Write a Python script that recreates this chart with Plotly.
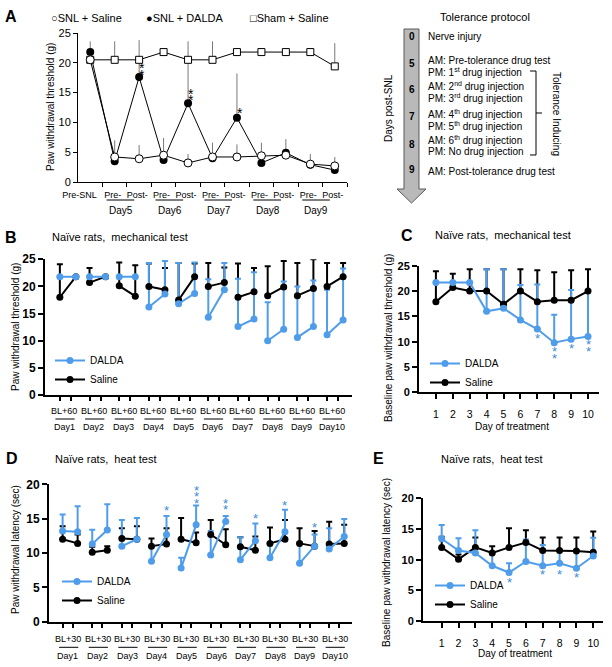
import plotly.graph_objects as go

W, H = 612, 667
BLUE = "#4F9DEA"
STAR_BLUE = "#3D8BD6"
FONT = "Liberation Sans, Arial, sans-serif"


def px(x):
    return x / W


def py(y):
    return 1 - y / H


# ---------------- panel A : SNL rats, tolerance ----------------
a_labels = ["Pre-SNL" + "\u00a0" * 7, "Pre-", "Post-", "Pre-", "Post-", "Pre-", "Post-",
            "Pre-", "Post-", "Pre-", "Post-"]
a_days = ["Day5", "Day6", "Day7", "Day8", "Day9"]
a_snl_saline = [20.5, 4.2, 3.9, 4.5, 3.2, 4.2, 4.2, 4.4, 4.5, 3.0, 2.7]
a_snl_saline_err = [0, 2.8, 2.3, 2.9, 1.5, 2.4, 2.1, 2.2, 2.7, 1.7, 1.5]
a_snl_dalda = [21.8, 3.5, 17.6, 3.7, 13.2, 4.0, 10.8, 3.2, 4.9, 2.9, 2.0]
a_snl_dalda_err = [1.8, 0, 6.2, 0, 10.4, 0, 7.4, 0, 0, 0, 0]
a_sham = [20.5, 20.5, 20.5, 21.8, 20.5, 20.5, 21.8, 21.8, 21.8, 21.8, 19.4]
a_sham_err = [0, 3.1, 0, 0, 0, 3.1, 0, 0, 0, 0, 3.9]
a_stars = [(2, 19.6), (2, 18.5), (4, 15.3), (4, 14.3), (6, 12.1)]

# ---------------- panel B : naive, mechanical, BL vs +60 ----------------
days = list(range(1, 11))
b_dalda_bl = [21.8, 21.8, 21.8, 16.2, 16.8, 14.3, 12.6, 10.0, 10.6, 11.1]
b_dalda_bl_err = [0, 0, 0, 8.1, 7.5, 7.0, 8.8, 7.1, 9.4, 8.3]
b_dalda_60 = [21.8, 21.8, 21.8, 18.6, 18.7, 19.4, 14.0, 12.1, 12.6, 13.8]
b_dalda_60_err = [0, 0, 0, 6.1, 5.7, 4.9, 8.6, 8.8, 8.5, 9.5]
b_saline_bl = [18.0, 20.7, 20.1, 20.0, 17.5, 20.0, 18.0, 18.3, 18.3, 20.0]
b_saline_bl_err = [6.1, 2.7, 4.3, 4.2, 6.8, 4.3, 6.2, 5.4, 6.0, 4.3]
b_saline_60 = [21.8, 21.8, 18.2, 19.4, 21.8, 20.7, 19.0, 19.9, 19.6, 21.8]
b_saline_60_err = [0, 0, 5.7, 4.0, 2.4, 2.8, 4.4, 4.8, 5.4, 2.5]
b_stars = [(4, 26.1), (6, 25.8)]

# ---------------- panel C : baseline mechanical ----------------
c_dalda = [21.7, 21.7, 21.7, 16.0, 16.6, 14.3, 12.5, 9.8, 10.5, 11.0]
c_dalda_err = [0, 0, 0, 8.3, 7.7, 6.9, 8.8, 5.5, 9.7, 8.9]
c_saline = [17.9, 20.7, 20.0, 20.0, 17.4, 20.0, 17.9, 18.2, 18.2, 20.0]
c_saline_err = [6.0, 2.7, 4.3, 4.3, 6.9, 4.3, 6.2, 5.5, 5.9, 4.3]
c_stars = [(7, 11.2), (8, 8.6), (8, 7.2), (9, 9.2), (10, 10.0), (10, 8.7)]

# ---------------- panel D : naive, heat, BL vs +30 ----------------
d_dalda_bl = [13.2, 11.3, 11.0, 8.8, 7.8, 9.7, 9.0, 9.3, 8.5, 10.6]
d_dalda_bl_err = [2.4, 2.1, 3.8, 2.2, 1.5, 3.5, 3.3, 2.3, 3.1, 3.0]
d_dalda_30 = [13.1, 13.35, 12.0, 12.7, 14.1, 14.6, 11.8, 13.1, 11.0, 12.4]
d_dalda_30_err = [3.7, 3.75, 3.1, 2.7, 2.8, 0.8, 2.5, 3.2, 1.7, 2.55]
d_saline_bl = [12.0, 10.1, 12.1, 11.0, 12.0, 12.7, 10.9, 11.4, 11.4, 11.3]
d_saline_bl_err = [1.9, 0.8, 1.5, 1.1, 3.1, 2.1, 1.4, 2.3, 2.2, 3.25]
d_saline_30 = [11.4, 10.4, 12.0, 11.3, 11.5, 11.2, 10.4, 12.0, 11.0, 11.4]
d_saline_30_err = [1.3, 0.6, 1.9, 2.3, 1.5, 2.25, 2.0, 2.8, 2.2, 2.7]
d_stars = [(4, 16.6), (5, 19.5), (5, 18.6), (5, 17.7), (6, 17.7), (6, 16.8),
           (7, 15.5), (8, 17.3), (9, 14.1)]

# ---------------- panel E : baseline heat ----------------
e_dalda = [13.4, 11.5, 11.1, 9.0, 7.9, 9.7, 9.0, 9.4, 8.6, 10.6]
e_dalda_err = [2.25, 2.0, 3.7, 2.1, 1.5, 3.6, 3.4, 2.2, 2.9, 2.95]
e_saline = [12.0, 10.05, 12.0, 11.1, 12.0, 12.8, 11.5, 11.5, 11.4, 11.2]
e_saline_err = [1.75, 0.8, 1.6, 1.1, 3.1, 2.0, 2.1, 2.1, 2.2, 3.4]
e_stars = [(5, 6.7), (7, 8.0), (8, 8.0), (9, 7.5)]

protocol_days = ["0", "5", "6", "7", "8", "9"]
protocol_lines = [
    "Nerve injury",
    "AM: Pre-tolerance drug test",
    "PM: 1<sup>st</sup> drug injection",
    "AM: 2<sup>nd</sup> drug injection",
    "PM: 3<sup>rd</sup> drug injection",
    "AM: 4<sup>th</sup> drug injection",
    "PM: 5<sup>th</sup> drug injection",
    "AM: 6<sup>th</sup> drug injection",
    "PM: No drug injection",
    "AM: Post-tolerance drug test",
]

fig = go.Figure()
ann = []
shapes = []


def label(x, y, text, size=10, angle=0, anchor="center", bold=False, color="black"):
    ann.append(dict(x=px(x), y=py(y), xref="paper", yref="paper", text=text,
                    showarrow=False, textangle=angle, xanchor=anchor, yanchor="middle",
                    font=dict(family=FONT, size=size, color=color,
                              weight="bold" if bold else "normal")))


def star(xv, yv, axis, color, size=13):
    ann.append(dict(x=xv, y=yv, xref="x" + axis, yref="y" + axis, text="*",
                    showarrow=False, yshift=-3, xanchor="center", yanchor="middle",
                    font=dict(family=FONT, size=size, color=color)))


def errs(x, y, e, color, axis, thick, width):
    fig.add_trace(go.Scatter(
        x=x, y=y, mode="markers", xaxis="x" + axis, yaxis="y" + axis,
        marker=dict(size=1, color="rgba(0,0,0,0)"), showlegend=False, hoverinfo="skip",
        error_y=dict(type="data", symmetric=False, array=e, arrayminus=[0] * len(e),
                     color=color, thickness=thick, width=width)))


# ---- panel A traces
ax = list(range(len(a_labels)))
errs(ax, a_sham, a_sham_err, "#555", "", 0.8, 0)
errs(ax, a_snl_saline, a_snl_saline_err, "#555", "", 0.8, 0)
errs(ax, a_snl_dalda, a_snl_dalda_err, "#555", "", 0.8, 0)
fig.add_trace(go.Scatter(x=ax, y=a_sham, mode="lines+markers", showlegend=False,
                         line=dict(color="black", width=1),
                         marker=dict(symbol="square", size=7, color="white",
                                     line=dict(color="black", width=1))))
fig.add_trace(go.Scatter(x=ax, y=a_snl_dalda, mode="lines+markers", showlegend=False,
                         line=dict(color="black", width=1),
                         marker=dict(symbol="circle", size=8, color="black")))
fig.add_trace(go.Scatter(x=ax, y=a_snl_saline, mode="lines+markers", showlegend=False,
                         line=dict(color="black", width=1),
                         marker=dict(symbol="circle", size=8, color="white",
                                     line=dict(color="black", width=1))))
for xv, yv in a_stars:
    ann.append(dict(x=xv + 0.13, y=yv, xref="x", yref="y", text="*", showarrow=False,
                    yshift=-3, font=dict(family=FONT, size=14, color="black")))


# ---- paired panels (B, D)
def paired(axis, bl, bl_e, post, post_e, s_bl, s_bl_e, s_post, s_post_e, off, legend):
    xb = [d - 1 for d in days]
    xp = [d - 1 + off for d in days]
    errs(xb + xp, s_bl + s_post, s_bl_e + s_post_e, "black", axis, 2, 3)
    errs(xb + xp, bl + post, bl_e + post_e, BLUE, axis, 2, 3)
    for name, a, b, col in [("Saline", s_bl, s_post, "black"), ("DALDA", bl, post, BLUE)]:
        xs, ys = [], []
        for i in range(len(days)):
            xs += [xb[i], xp[i], None]
            ys += [a[i], b[i], None]
        fig.add_trace(go.Scatter(x=xs, y=ys, mode="lines+markers", name=name,
                                 xaxis="x" + axis, yaxis="y" + axis, legend=legend,
                                 line=dict(color=col, width=2),
                                 marker=dict(symbol="circle", size=7, color=col)))


paired("2", b_dalda_bl, b_dalda_bl_err, b_dalda_60, b_dalda_60_err,
       b_saline_bl, b_saline_bl_err, b_saline_60, b_saline_60_err, 0.54, "legend")
for d, yv in b_stars:
    star(d - 1 + 0.54, yv, "2", STAR_BLUE)

paired("4", d_dalda_bl, d_dalda_bl_err, d_dalda_30, d_dalda_30_err,
       d_saline_bl, d_saline_bl_err, d_saline_30, d_saline_30_err, 0.507, "legend3")
for d, yv in d_stars:
    star(d - 1 + 0.507, yv, "4", STAR_BLUE)


# ---- baseline panels (C, E)
def baseline(axis, dal, dal_e, sal, sal_e, legend):
    errs(days, sal, sal_e, "black", axis, 2, 3)
    errs(days, dal, dal_e, BLUE, axis, 2, 3)
    for name, v, col in [("Saline", sal, "black"), ("DALDA", dal, BLUE)]:
        fig.add_trace(go.Scatter(x=days, y=v, mode="lines+markers", name=name,
                                 xaxis="x" + axis, yaxis="y" + axis, legend=legend,
                                 line=dict(color=col, width=2),
                                 marker=dict(symbol="circle", size=7, color=col)))


baseline("3", c_dalda, c_dalda_err, c_saline, c_saline_err, "legend2")
for d, yv in c_stars:
    star(d, yv, "3", STAR_BLUE)
baseline("5", e_dalda, e_dalda_err, e_saline, e_saline_err, "legend4")
for d, yv in e_stars:
    star(d, yv, "5", STAR_BLUE)

# ---------------- axes ----------------
thin = dict(showline=True, linecolor="black", linewidth=1, showgrid=False, zeroline=False,
            tickcolor="black", tickfont=dict(family=FONT, size=11, color="black"))
thick = dict(showline=True, linecolor="black", linewidth=2, showgrid=False, zeroline=False,
             tickcolor="black", tickwidth=2, ticks="outside", ticklen=5)

layout_axes = dict(
    xaxis=dict(thin, domain=[px(78), px(347)], range=[-0.5, 10.5], anchor="y",
               tickmode="array", tickvals=ax, ticktext=a_labels, ticks="", tickangle=0,
               ticklabelstandoff=4, ticklabelshift=-2,
               tickfont=dict(family=FONT, size=9, color="black"),
               minor=dict(tickmode="array", tickvals=[i + 0.5 for i in ax], ticks="outside",
                          ticklen=4, tickcolor="black", tickwidth=1)),
    yaxis=dict(thin, domain=[py(182), py(33)], range=[0, 25], anchor="x",
               tickvals=[0, 5, 10, 15, 20, 25], ticks="outside", ticklen=4),
    xaxis2=dict(thick, domain=[px(45), px(352)], range=[-0.5, 9.84], anchor="y2",
                tickvals=[d - 1 for d in days] + [d - 1 + 0.37 for d in days],
                showticklabels=False, ticklen=4),
    yaxis2=dict(thick, domain=[py(395), py(259.25)], range=[0, 25], anchor="x2",
                tickvals=[0, 5, 10, 15, 20, 25],
                tickfont=dict(family=FONT, size=12, color="black", weight="bold")),
    xaxis3=dict(thick, domain=[px(419), px(599)], range=[0, 10.65], anchor="y3",
                tickvals=days, ticklabelstandoff=6,
                tickfont=dict(family=FONT, size=10.5, color="black")),
    yaxis3=dict(thick, domain=[py(392.3), py(265.7)], range=[0, 25], anchor="x3",
                tickvals=[0, 5, 10, 15, 20, 25],
                tickfont=dict(family=FONT, size=11, color="black", weight="bold")),
    xaxis4=dict(thick, domain=[px(49), px(352)], range=[-0.46, 9.77], anchor="y4",
                tickvals=[d - 1 for d in days] + [d - 1 + 0.34 for d in days],
                showticklabels=False, ticklen=4),
    yaxis4=dict(thick, domain=[py(621.7), py(484.3)], range=[0, 20], anchor="x4",
                tickvals=[0, 5, 10, 15, 20],
                tickfont=dict(family=FONT, size=12, color="black", weight="bold")),
    xaxis5=dict(thick, domain=[px(423), px(603)], range=[-0.11, 10.58], anchor="y5",
                tickvals=days, ticklabelstandoff=6,
                tickfont=dict(family=FONT, size=10.5, color="black")),
    yaxis5=dict(thick, domain=[py(621), py(498.3)], range=[0, 20], anchor="x5",
                tickvals=[0, 5, 10, 15, 20],
                tickfont=dict(family=FONT, size=11, color="black", weight="bold")),
)

# ---------------- text, labels, decorations ----------------
# panel A
label(11, 17, "A", 16, bold=True)
label(86, 18, "○SNL + Saline", 11)
label(185, 18, "●SNL + DALDA", 11)
label(289, 18, "□Sham + Saline", 11)
label(50, 107, "Paw withdrawal threshold (g)", 10, angle=-90)
for i, dname in enumerate(a_days):
    pre, post = 1 + 2 * i, 2 + 2 * i
    ann.append(dict(x=(pre + post) / 2 - 0.25, y=py(210), xref="x", yref="paper",
                    text=dname, showarrow=False, yanchor="middle",
                    font=dict(family=FONT, size=10, color="black")))
    shapes.append(dict(type="line", xref="x", yref="paper", x0=pre - 0.33, x1=post - 0.2,
                       y0=py(200), y1=py(200), line=dict(color="black", width=1)))

# tolerance protocol
label(485, 17, "Tolerance protocol", 11)
arrow = [(404, 29), (419, 29), (419, 189), (426, 189), (411.5, 203), (397, 189), (404, 189)]
path = "M " + " L ".join(f"{px(x):.5f},{py(y):.5f}" for x, y in arrow) + " Z"
shapes.append(dict(type="path", xref="paper", yref="paper", path=path,
                   fillcolor="#B9B9B9", line=dict(color="#5A5A5A", width=1)))
for t, yv in zip(protocol_days, [37, 64, 89, 117, 144, 169]):
    label(411.5, yv, t, 10, bold=True)
label(388, 108, "Days post-SNL", 10, angle=-90)
for t, yv in zip(protocol_lines, [37, 60, 72, 86, 98, 114, 126, 140, 152, 171]):
    label(426, yv, t, 10, anchor="left")
br = [(530, 71), (536, 71), (536, 155), (530, 155)]
bpath = "M " + " L ".join(f"{px(x):.5f},{py(y):.5f}" for x, y in br)
bpath += f" M {px(536):.5f},{py(113):.5f} L {px(542):.5f},{py(113):.5f}"
shapes.append(dict(type="path", xref="paper", yref="paper", path=bpath,
                   line=dict(color="black", width=1)))
label(557, 114, "Tolerance Inducing", 10, angle=90)

# panels B-E headings
title_b = "Naïve rats,\u00a0\u00a0mechanical test"
title_d = "Naïve rats,\u00a0\u00a0heat test"
label(11, 237, "B", 16, bold=True)
label(50, 237, title_b, 11, anchor="left")
label(407, 236, "C", 16, bold=True)
label(503, 235, title_b, 11)
label(12, 458, "D", 16, bold=True)
label(53, 459, title_d, 11, anchor="left")
label(378, 458, "E", 16, bold=True)
label(492, 459, title_d, 11)

label(15, 327, "Paw withdrawal threshold (g)", 10, angle=-90)
label(388, 338, "Baseline paw withdrawal threshold (g)", 10, angle=-90)
label(15, 550, "Paw withdrawal latency (sec)", 10, angle=-90)
label(386, 563, "Baseline paw withdrawal latency (sec)", 10, angle=-90)
label(512, 426, "Day of treatment", 10)
label(515, 653, "Day of treatment", 10)


def day_labels(axis, tag, off, y_tag, y_line, y_day):
    for d in days:
        c = d - 1 + off
        ann.append(dict(x=c, y=py(y_tag), xref="x" + axis, yref="paper", text=tag,
                        showarrow=False, yanchor="middle",
                        font=dict(family=FONT, size=9, color="black")))
        ann.append(dict(x=c, y=py(y_day), xref="x" + axis, yref="paper", text=f"Day{d}",
                        showarrow=False, yanchor="middle",
                        font=dict(family=FONT, size=9, color="black")))
        shapes.append(dict(type="line", xref="x" + axis, yref="paper",
                           x0=c - 0.3, x1=c + 0.35, y0=py(y_line), y1=py(y_line),
                           line=dict(color="black", width=1)))


day_labels("2", "BL+60", 0.15, 411, 419, 427)
day_labels("4", "BL+30", 0.18, 638.7, 647.3, 655.5)


def legend_at(x, y):
    return dict(x=px(x), y=py(y), xanchor="left", yanchor="top", bgcolor="rgba(0,0,0,0)",
                traceorder="reversed", tracegroupgap=0, itemwidth=30,
                font=dict(family=FONT, size=10, color="black"))


fig.update_layout(
    width=W, height=H, margin=dict(l=0, r=0, t=0, b=0, autoexpand=False),
    paper_bgcolor="white", plot_bgcolor="white",
    font=dict(family=FONT, color="black"),
    annotations=ann, shapes=shapes,
    legend=legend_at(50, 346),
    legend2=legend_at(425, 349),
    legend3=legend_at(57, 567),
    legend4=legend_at(430, 571),
    **layout_axes,
)

# page body has a default 8px margin; drop it so the figure sits at the window corner
fig.write_html("out.html", config={"displayModeBar": False},
               post_script="document.body.style.margin='0';")
